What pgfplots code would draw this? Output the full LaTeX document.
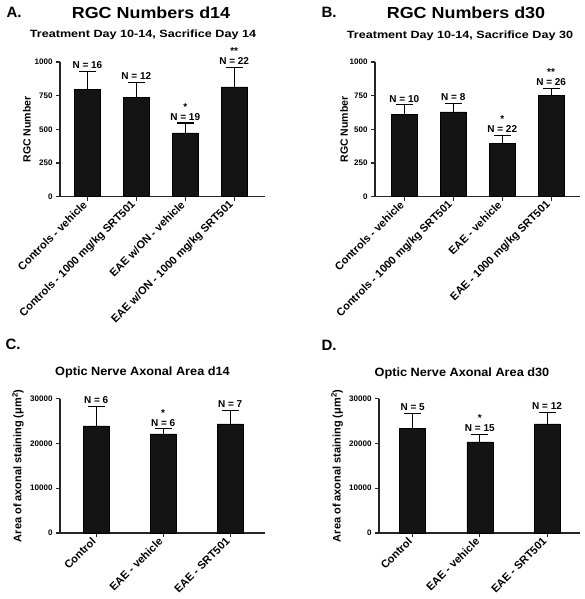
\documentclass[border=0pt]{standalone}
\usepackage{pgfplots}
\pgfplotsset{compat=1.18}
\usepackage{fontspec}
\setmainfont{Liberation Sans}
\usepackage{graphicx}

\newcommand{\fs}[1]{\fontsize{#1}{#1}\selectfont\bfseries}

\pgfplotsset{
  panel/.style={
    scale only axis,
    axis x line*=bottom, axis y line*=left,
    axis line style={line width=1.1pt, black!85},
    tick align=outside,
    major tick length=4pt,
    tick style={line width=1.1pt, black!85},
    ymin=0,
    clip=false,
    /pgf/number format/assume math mode=true,
    /pgf/number format/1000 sep={},
    scaled y ticks=false,
    yticklabel style={font=\fs{8}},
    xticklabel style={font=\fs{11}, rotate=45, anchor=east},
    ylabel style={font=\fs{10.5}, anchor=center},
    enlarge x limits=false,
  },
  bars/.style={ybar, bar shift=0pt, bar width=26pt, fill=black!92, draw=black, line width=0.5pt,
     error bars/.cd, y dir=plus, y explicit,
     error bar style={line width=1.1pt, black},
     error mark options={rotate=90, line width=1.1pt, mark size=8.5pt, black}},
  nlab/.style={draw=none, mark=none, nodes near coords, point meta=explicit symbolic,
     nodes near coords style={font=\fs{10}, anchor=south, inner sep=2.5pt}}
}

\begin{document}
\begin{tikzpicture}
\useasboundingbox (0,0) rectangle (584pt,599pt);

% ---------- titles ----------
\node[anchor=west] at (3pt,586.5pt) {\fs{15}A.};
\node at (151pt,586.5pt) {\scalebox{1.12}[1]{\fs{16}RGC Numbers d14}};
\node at (143pt,564pt) {\scalebox{1.2}[1]{\fs{10.5}Treatment Day 10-14, Sacrifice Day 14}};
\node[anchor=west] at (318pt,586.5pt) {\fs{15}B.};
\node at (466pt,586.5pt) {\scalebox{1.12}[1]{\fs{16}RGC Numbers d30}};
\node at (460pt,563pt) {\scalebox{1.2}[1]{\fs{10.5}Treatment Day 10-14, Sacrifice Day 30}};
\node[anchor=west] at (2pt,255pt) {\fs{15}C.};
\node at (142.5pt,227pt) {\scalebox{1.06}[1]{\fs{12}Optic Nerve Axonal Area d14}};
\node[anchor=west] at (318pt,254pt) {\fs{15}D.};
\node at (462pt,226pt) {\scalebox{1.06}[1]{\fs{12}Optic Nerve Axonal Area d30}};

% ---------- A ----------
\begin{axis}[panel, at={(60pt,402.3pt)}, anchor=south west,
  width=205pt, height=134.7pt,
  xmin=-0.56, xmax=3.63, ymax=1000,
  ytick={0,250,500,750,1000},
  xtick={0,1,2,3},
  xticklabels={Controls - vehicle, Controls - 1000 mg/kg SRT501, EAE w/ON - vehicle, EAE w/ON - 1000 mg/kg SRT501},
  ylabel={RGC Number},
  ylabel style={at={(axis description cs:-0.161,0.5)}},
]
\addplot[bars] coordinates {(0,798) +- (0,132) (1,740) +- (0,110) (2,473) +- (0,74) (3,815) +- (0,143)};
\addplot[nlab] coordinates {(0,930) [N = 16] (1,850) [N = 12] (2,547) [{\shortstack{*\\N = 19}}] (3,958) [{\shortstack{**\\N = 22}}]};
\end{axis}

% ---------- B ----------
\begin{axis}[panel, at={(375pt,402.3pt)}, anchor=south west,
  width=205pt, height=134.7pt,
  xmin=-0.60, xmax=3.59, ymax=1000,
  ytick={0,250,500,750,1000},
  xtick={0,1,2,3},
  xticklabels={Controls - vehicle, Controls - 1000 mg/kg SRT501, EAE - vehicle, EAE - 1000 mg/kg SRT501},
  ylabel={RGC Number},
  ylabel style={at={(axis description cs:-0.151,0.5)}},
]
\addplot[bars] coordinates {(0,613) +- (0,69) (1,630) +- (0,62) (2,397) +- (0,57) (3,752) +- (0,52)};
\addplot[nlab] coordinates {(0,682) [N = 10] (1,692) [N = 8] (2,454) [{\shortstack{*\\N = 22}}] (3,804) [{\shortstack{**\\N = 26}}]};
\end{axis}

% ---------- C ----------
\begin{axis}[panel, at={(60pt,66pt)}, anchor=south west,
  width=205pt, height=134.3pt,
  xmin=-0.54, xmax=2.52, ymax=30000,
  ytick={0,10000,20000,30000},
  xtick={0,1,2},
  xticklabels={Control, EAE - vehicle, EAE - SRT501},
  ylabel={Area of axonal staining (μm\textsuperscript{2})},
  ylabel style={at={(axis description cs:-0.205,0.5)}, font=\fs{11}},
]
\addplot[bars] coordinates {(0,23930) +- (0,4370) (1,22150) +- (0,1110) (2,24370) +- (0,2960)};
\addplot[nlab] coordinates {(0,28300) [N = 6] (1,23260) [{\shortstack{*\\N = 6}}] (2,27330) [N = 7]};
\end{axis}

% ---------- D ----------
\begin{axis}[panel, at={(379pt,66pt)}, anchor=south west,
  width=201pt, height=134.3pt,
  xmin=-0.50, xmax=2.49, ymax=30000,
  ytick={0,10000,20000,30000},
  xtick={0,1,2},
  xticklabels={Control, EAE - vehicle, EAE - SRT501},
  ylabel={Area of axonal staining (μm\textsuperscript{2})},
  ylabel style={at={(axis description cs:-0.209,0.5)}, font=\fs{11}},
]
\addplot[bars] coordinates {(0,23400) +- (0,3340) (1,20370) +- (0,1630) (2,24370) +- (0,2520)};
\addplot[nlab] coordinates {(0,26740) [N = 5] (1,22000) [{\shortstack{*\\N = 15}}] (2,26890) [N = 12]};
\end{axis}
\end{tikzpicture}
\end{document}
